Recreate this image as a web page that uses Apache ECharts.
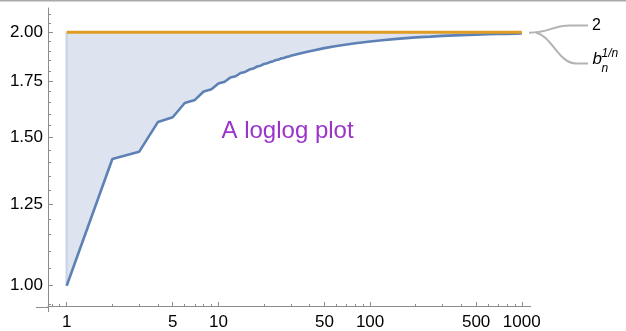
<!DOCTYPE html>
<html><head><meta charset="utf-8">
<script src="https://cdn.jsdelivr.net/npm/echarts@6/dist/echarts.min.js"></script>
<style>html,body{margin:0;padding:0;background:#fff}#c{width:626px;height:331px}</style>
</head><body><div id="c"></div>
<script>
// n values (x) and b_n^(1/n) values (y)
const nValues = [1,2,3,4,5,6,7,8,9,10,11,12,13,14,15,16,17,18,19,20,21,22,23,24,25,26,27,28,29,30,35,40,50,60,70,80,100,120,150,200,250,300,400,500,600,700,800,1000];
const bValues = [1.000,1.414,1.442,1.565,1.585,1.648,1.662,1.701,1.711,1.738,1.747,1.767,1.773,1.789,1.794,1.806,1.811,1.821,1.825,1.834,1.837,1.844,1.848,1.854,1.856,1.862,1.864,1.869,1.871,1.875,1.888,1.899,1.915,1.926,1.934,1.941,1.950,1.957,1.964,1.972,1.976,1.980,1.984,1.987,1.989,1.990,1.991,1.993];
const limitValue = 2;
const limitX = [1, 1000];
const xMajorTicks = [1,5,10,50,100,500,1000];
const xMinorTicks = [0.8,0.9,2,3,4,6,7,8,9,20,30,40,60,70,80,90,200,300,400,600,700,800,900];
const yMajorTicks = [1.00,1.25,1.50,1.75,2.00];
const yMinorTicks = [0.95,1.05,1.10,1.15,1.20,1.30,1.35,1.40,1.45,1.55,1.60,1.65,1.70,1.80,1.85,1.90,1.95,2.05,2.10];

const X_MIN = 0.753, X_MAX = 1145, Y_MIN = 0.946, Y_MAX = 2.137;
const axisGrey = '#8c8c8c';
const FONT = '"Liberation Sans", Arial, sans-serif';

const chart = echarts.init(document.getElementById('c'), null, {renderer: 'canvas'});

const baseX = {type:'log', min:X_MIN, max:X_MAX, position:'bottom', splitLine:{show:false}, minorTick:{show:false}, z:10};
const baseY = {type:'log', min:Y_MIN, max:Y_MAX, position:'left', splitLine:{show:false}, minorTick:{show:false}, z:10};

const option = {
  animation: false,
  grid: {left: 48, right: 95.3, top: 8, bottom: 24, containLabel: false},
  xAxis: [
    Object.assign({}, baseX, {
      axisLine:{show:true, lineStyle:{color:axisGrey, width:1}},
      axisTick:{show:true, inside:true, length:4, customValues:xMajorTicks, lineStyle:{color:axisGrey}},
      axisLabel:{show:true, customValues:xMajorTicks, margin:8, fontSize:17, color:'#000', fontFamily:FONT,
        formatter: v => String(Math.round(v))}
    }),
    Object.assign({}, baseX, {
      axisLine:{show:false},
      axisTick:{show:true, inside:true, length:2, customValues:xMinorTicks, lineStyle:{color:axisGrey}},
      axisLabel:{show:false}
    })
  ],
  yAxis: [
    Object.assign({}, baseY, {
      axisLine:{show:true, lineStyle:{color:axisGrey, width:1}},
      axisTick:{show:true, inside:true, length:5, customValues:yMajorTicks, lineStyle:{color:axisGrey}},
      axisLabel:{show:true, customValues:yMajorTicks, margin:5, fontSize:17, color:'#000', fontFamily:FONT,
        formatter: v => Number(v).toFixed(2)}
    }),
    Object.assign({}, baseY, {
      axisLine:{show:false},
      axisTick:{show:true, inside:true, length:3, customValues:yMinorTicks, lineStyle:{color:axisGrey}},
      axisLabel:{show:false}
    })
  ],
  series: [
    {
      type:'custom', name:'fill', z:1, silent:true,
      data: [[nValues[0], limitValue]],
      renderItem: (params, api) => {
        const top = nValues.map(n => api.coord([n, limitValue]));
        const bottom = nValues.map((n, i) => api.coord([n, bValues[i]])).reverse();
        return {type:'polygon', shape:{points: top.concat(bottom)}, style:{fill:'#dee3f0'}};
      }
    },
    {
      type:'line', name:'edge', data: [[nValues[0], bValues[0]], [nValues[0], limitValue]],
      symbol:'none', z:2, lineStyle:{color:'#cbd5e8', width:2.4}, silent:true
    },
    {
      type:'line', name:'b', data: nValues.map((n,i)=>[n, bValues[i]]),
      symbol:'none', z:3, lineStyle:{color:'#5e81b5', width:2.6}, itemStyle:{color:'#5e81b5'}, silent:true
    },
    {
      type:'line', name:'limit', data: limitX.map(x=>[x, limitValue]),
      symbol:'none', z:4, lineStyle:{color:'#e19c24', width:2.8}, itemStyle:{color:'#e19c24'}, silent:true
    }
  ],
  graphic: [
    {type:'rect', shape:{x:0, y:0, width:626, height:1.5}, style:{fill:'#a9a9a9'}, silent:true},
    {type:'line', shape:{x1:36, y1:307.5, x2:48, y2:307.5}, style:{stroke:axisGrey, lineWidth:1}, silent:true},
    {type:'line', shape:{x1:48.5, y1:307, x2:48.5, y2:312}, style:{stroke:axisGrey, lineWidth:1}, silent:true},
    {type:'bezierCurve', shape:{x1:529, y1:32.7, cpx1:550, cpy1:32.7, cpx2:552, cpy2:25.5, x2:570, y2:25.5}, style:{stroke:'#b3b3b3', lineWidth:2, fill:null}, silent:true},
    {type:'line', shape:{x1:570, y1:25.5, x2:588, y2:25.5}, style:{stroke:'#b3b3b3', lineWidth:2}, silent:true},
    {type:'bezierCurve', shape:{x1:536, y1:32.7, cpx1:552, cpy1:36, cpx2:558, cpy2:63, x2:576, y2:63.5}, style:{stroke:'#b3b3b3', lineWidth:2, fill:null}, silent:true},
    {type:'line', shape:{x1:576, y1:63.5, x2:588, y2:63.5}, style:{stroke:'#b3b3b3', lineWidth:2}, silent:true},
    {type:'text', x:592, y:26, style:{text:'2', font:'16px '+FONT, fill:'#000', verticalAlign:'middle', align:'left'}, silent:true},
    {type:'text', x:592.5, y:59, style:{text:'b', font:'italic 17px '+FONT, fill:'#000', verticalAlign:'middle', align:'left'}, silent:true},
    {type:'text', x:601.5, y:69, style:{text:'n', font:'italic 12px '+FONT, fill:'#000', verticalAlign:'middle', align:'left'}, silent:true},
    {type:'text', x:601.5, y:53.5, style:{text:'1/n', font:'italic 12px '+FONT, fill:'#000', verticalAlign:'middle', align:'left'}, silent:true},
    {type:'text', x:221.5, y:131, style:{text:'A loglog plot', font:'24px '+FONT, fill:'#9b34c9', verticalAlign:'middle', align:'left'}, silent:true}
  ]
};
chart.setOption(option);
</script>
</body></html>
